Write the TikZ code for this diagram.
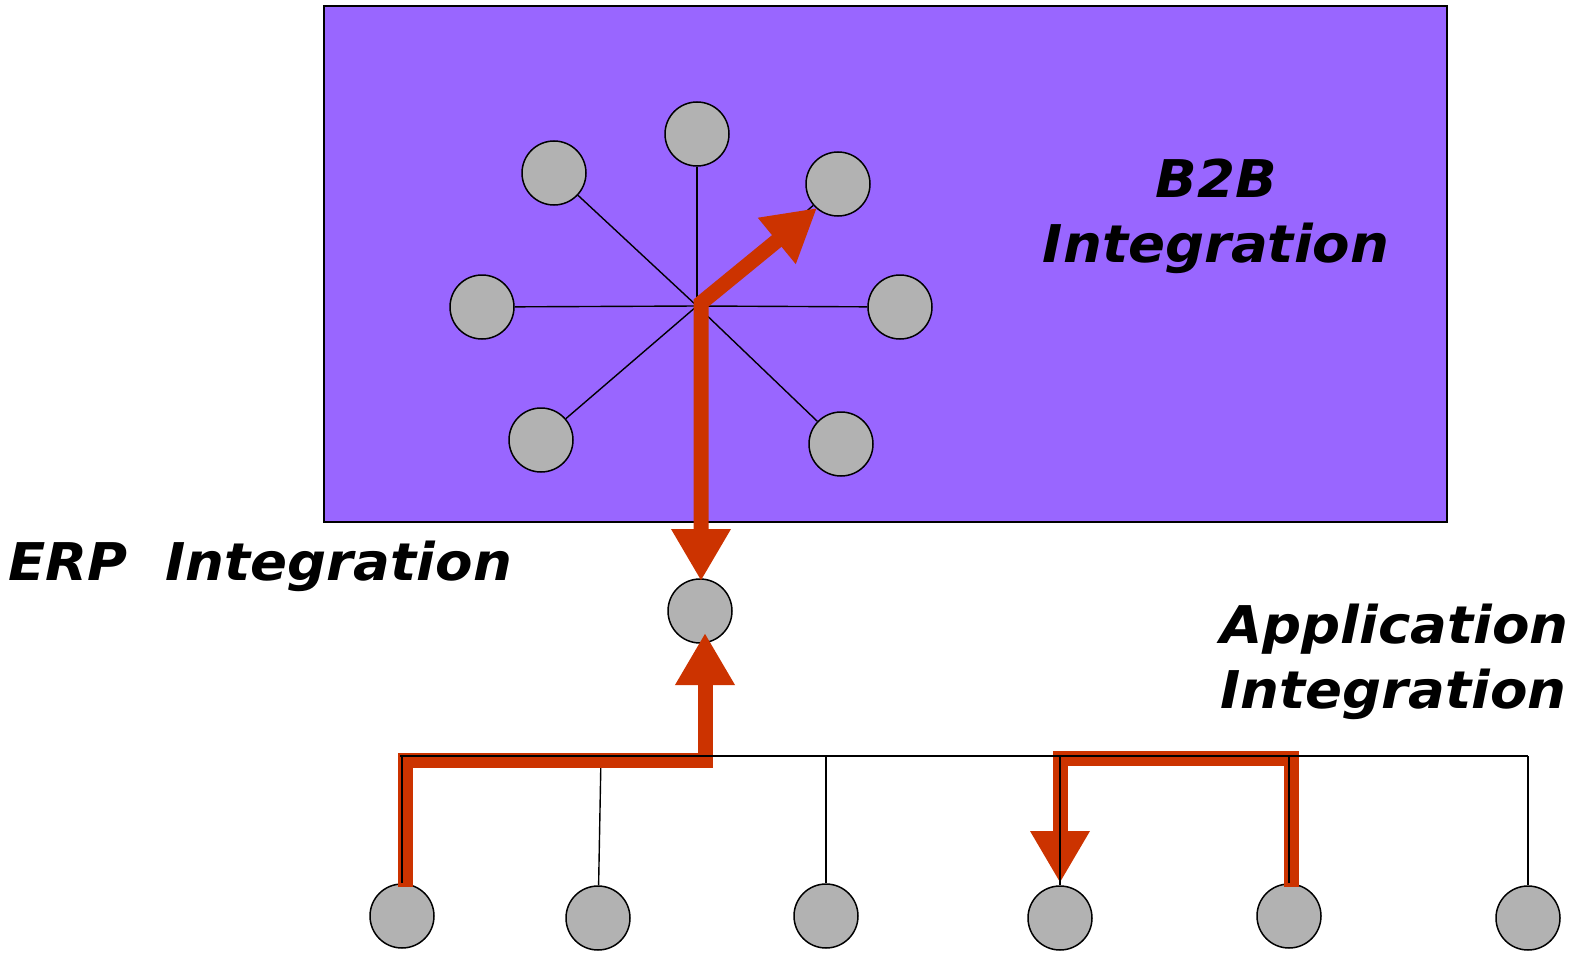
\documentclass[tikz,border=0pt]{standalone}
\usepackage{fontspec}
\setmainfont{DejaVu Sans}
\newfontfamily\lblfont{DejaVu Sans}[FakeStretch=1.05]
\usetikzlibrary{arrows.meta}
\definecolor{boxpurple}{HTML}{9966FF}
\definecolor{dotgray}{HTML}{B2B2B2}
\definecolor{flowred}{HTML}{CC3300}
\begin{document}
\begin{tikzpicture}[x=1pt,y=-1pt,
  dot/.style={circle,draw=black,line width=1.5pt,fill=dotgray,minimum size=64pt,inner sep=0pt},
  wire/.style={draw=black,line width=1.4pt},
  flow/.style={draw=flowred,line width=15pt},
  tip/.style={-{Triangle[width=56pt,length=52pt]}},
  lbl/.style={font=\lblfont\fontsize{52}{60}\selectfont\bfseries\itshape,inner sep=0pt}
]
\useasboundingbox (0,0) rectangle (1572,955);
% B2B box
\node[draw=black,line width=2pt,fill=boxpurple,minimum width=1123pt,minimum height=516pt,inner sep=0pt,anchor=north west] (box) at (323,5) {};
% hub
\coordinate (hub) at (697,306);
\node[dot] (s1) at (697,134) {};
\node[dot] (s2) at (554,173) {};
\node[dot] (s3) at (838,184) {};
\node[dot] (s4) at (482,307) {};
\node[dot] (s5) at (900,307) {};
\node[dot] (s6) at (541,440) {};
\node[dot] (s7) at (841,444) {};
\foreach \n in {s1,s2,s3,s4,s5,s6,s7} \draw[wire] (hub) -- (\n);
% ERP node
\node[dot] (erp) at (700,611) {};
% bottom nodes
\node[dot] (b1) at (402,916) {};
\node[dot] (b2) at (598,918) {};
\node[dot] (b3) at (826,916) {};
\node[dot] (b4) at (1060,918) {};
\node[dot] (b5) at (1289,916) {};
\node[dot] (b6) at (1528,918) {};
% bus
\coordinate (busL) at (400,756);
\coordinate (busR) at (1528,756);
\draw[wire] (busL) -- (busR);
\draw[wire] (402,756) -- (b1);
\draw[wire] (601,756) -- (b2);
\draw[wire] (826,756) -- (b3);
\draw[wire] (1060,756) -- (b4);
\draw[wire] (1289,756) -- (b5);
\draw[wire] (1528,756) -- (b6);
% red flows
\coordinate (hubr) at (701,303);
\coordinate (erptop) at (701,581);
\coordinate (s3tip) at (817,208);
\draw[flow,{Triangle[width=56pt,length=52pt]}-{Triangle[width=56pt,length=52pt]}] (erptop) -- (hubr) -- (s3tip);
\coordinate (lstart) at (405,887);
\coordinate (lcorner) at (705,760);
\coordinate (erpbot) at (705,633);
\draw[flow,tip] (lstart) |- (lcorner) -- (erpbot);
\coordinate (rstart) at (1291,887);
\coordinate (rleft) at (1060,758);
\coordinate (b4top) at (1060,883);
\draw[flow,tip] (rstart) |- (rleft) -- (b4top);
% black lines over red
\draw[wire] (busL) -- (1400,756);
\draw[wire] (402,756) -- (b1);
\draw[wire] (1060,756) -- (b4);
\draw[wire] (1289,756) -- (b5);
% labels
\node[lbl,anchor=base] (t1) at (1216,197) {B2B};
\node[lbl,anchor=base] (t2) at (1216,262) {Integration};
\node[lbl,anchor=base west] (t3) at (8,580) {ERP\ \ Integration};
\node[lbl,anchor=base west] (t4) at (1220,643) {Application};
\node[lbl,anchor=base west] (t5) at (1220,708) {Integration};
\end{tikzpicture}
\end{document}
